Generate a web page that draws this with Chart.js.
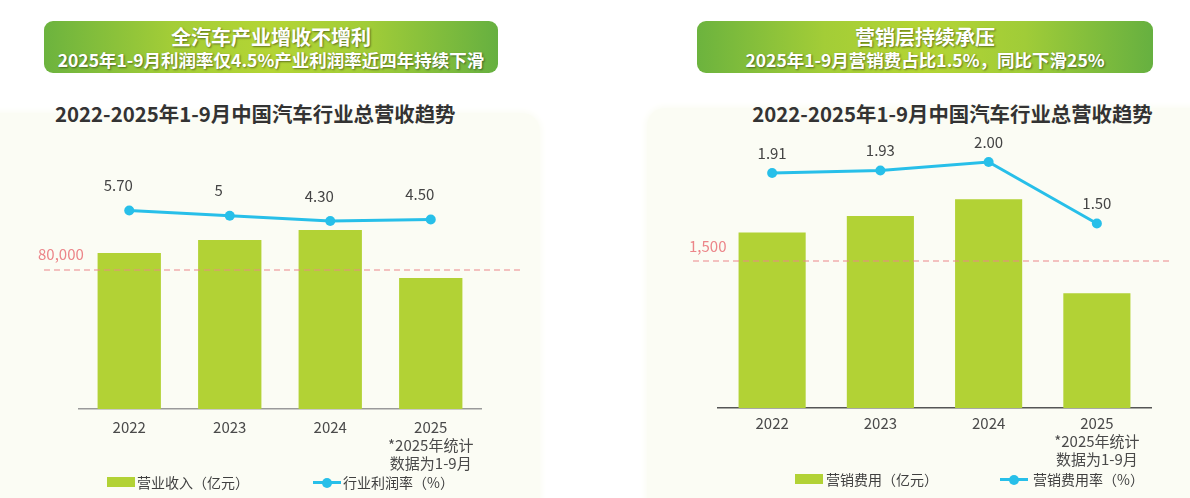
<!DOCTYPE html>
<html lang="zh-CN">
<head>
<meta charset="utf-8">
<title>2022-2025年1-9月中国汽车行业总营收趋势</title>
<script src="https://cdn.jsdelivr.net/npm/chart.js@4.4.1/dist/chart.umd.min.js"></script>
<style>
    html, body {
        margin: 0;
        padding: 0;
        width: 1190px;
        height: 498px;
        overflow: hidden;
        background: #ffffff;
        font-family: "Noto Sans CJK SC", "Noto Sans", sans-serif;
    }
    .panel {
        position: absolute;
        background: #fbfcf4;
        border-radius: 18px;
        box-shadow: 0 0 6px 2px #fbfcf4;
    }
    .banner {
        position: absolute;
        top: 21px;
        height: 52px;
        border-radius: 9px;
        background: linear-gradient(90deg, #6cb33e 0%, #a3cd37 28%, #b4d534 50%, #a0cc38 72%, #66b040 100%);
        color: #fff;
        text-align: center;
        font-weight: bold;
        text-shadow: 1px 1px 2px rgba(0, 0, 0, 0.45);
        box-sizing: border-box;
        padding-top: 4px;
    }
    .banner .l1 { font-size: 20px; line-height: 23px; }
    .banner .l2 { font-size: 17.5px; line-height: 24px; }
    .title {
        position: absolute;
        top: 99px;
        font-size: 20.4px;
        line-height: 28px;
        font-weight: bold;
        color: #333333;
        text-align: center;
        white-space: nowrap;
    }
    canvas { position: absolute; top: 0; }
    .legend-box {
        position: absolute;
        width: 28px;
        height: 10px;
        background: #b2d235;
    }
    .legend-line {
        position: absolute;
        width: 28px;
        height: 3px;
        background: #27bfe9;
    }
    .legend-line::after {
        content: "";
        position: absolute;
        left: 9px;
        top: -3.5px;
        width: 10px;
        height: 10px;
        border-radius: 50%;
        background: #27bfe9;
    }
    .legend-text {
        position: absolute;
        font-size: 14px;
        line-height: 18px;
        color: #404040;
        white-space: nowrap;
    }
</style>
</head>
<body>

<div class="panel" style="left:-20px; top:113px; width:560px; height:420px;"></div>
<div class="panel" style="left:647px; top:108px; width:570px; height:420px;"></div>

<div class="banner" style="left:44px; width:454px;">
    <div class="l1">全汽车产业增收不增利</div>
    <div class="l2">2025年1-9月利润率仅4.5%产业利润率近四年持续下滑</div>
</div>
<div class="banner" style="left:697px; width:456px;">
    <div class="l1">营销层持续承压</div>
    <div class="l2">2025年1-9月营销费占比1.5%，同比下滑25%</div>
</div>

<div class="title" style="left:55px; width:400px;">2022-2025年1-9月中国汽车行业总营收趋势</div>
<div class="title" style="left:752px; width:401px;">2022-2025年1-9月中国汽车行业总营收趋势</div>

<canvas id="revenueChart" width="600" height="498" style="left:0;"></canvas>
<canvas id="marketingChart" width="590" height="498" style="left:600px;"></canvas>

<div class="legend-box" style="left:107px; top:477px;"></div>
<div class="legend-text" style="left:137px; top:473px;">营业收入（亿元）</div>
<div class="legend-line" style="left:313px; top:481px;"></div>
<div class="legend-text" style="left:343px; top:473px;">行业利润率（%）</div>

<div class="legend-box" style="left:795px; top:474px;"></div>
<div class="legend-text" style="left:826px; top:470px;">营销费用（亿元）</div>
<div class="legend-line" style="left:1000px; top:478px;"></div>
<div class="legend-text" style="left:1033px; top:470px;">营销费用率（%）</div>

<script>
// --- Data ---
const YEARS = ['2022', '2023', '2024', ['2025', '*2025年统计', '数据为1-9月']];

const REVENUE = [89800, 97300, 103000, 75400];          // 营业收入（亿元）
const PROFIT_RATE = [5.7, 5.0, 4.3, 4.5];                // 行业利润率（%）
const PROFIT_RATE_TEXT = ['5.70', '5', '4.30', '4.50'];
const REVENUE_REF = 80000;

const MARKETING_COST = [1790, 1960, 2130, 1170];         // 营销费用（亿元）
const MARKETING_RATE = [1.91, 1.93, 2.00, 1.50];         // 营销费用率（%）
const MARKETING_RATE_TEXT = ['1.91', '1.93', '2.00', '1.50'];
const MARKETING_REF = 1500;

// --- Styles ---
const BAR_COLOR = '#b2d235';
const LINE_COLOR = '#27bfe9';
const REF_COLOR = '#ec8589';
const FONT = '"Noto Sans CJK SC", "Noto Sans", sans-serif';

// reference dashed line + labels above the line points
const overlayPlugin = {
    id: 'overlay',
    afterDatasetsDraw(chart, args, opts) {
        const ctx = chart.ctx;
        const y = chart.scales.y.getPixelForValue(opts.refValue);

        ctx.save();
        ctx.strokeStyle = REF_COLOR;
        ctx.lineWidth = 1.2;
        ctx.setLineDash([6, 4]);
        ctx.beginPath();
        ctx.moveTo(opts.refFrom, y);
        ctx.lineTo(opts.refTo, y);
        ctx.stroke();
        ctx.setLineDash([]);

        ctx.font = `15px ${FONT}`;
        ctx.textBaseline = 'middle';
        ctx.textAlign = 'left';
        ctx.fillStyle = REF_COLOR;
        ctx.fillText(opts.refValue.toLocaleString('en-US'), opts.refLabelX, y - opts.refLabelDy);

        ctx.textAlign = 'center';
        ctx.fillStyle = '#444444';
        chart.getDatasetMeta(1).data.forEach((pt, i) => {
            ctx.fillText(opts.pointText[i], pt.x + opts.dx, pt.y - opts.dy);
        });
        ctx.restore();
    }
};

function makeChart(canvasId, cfg) {
    return new Chart(document.getElementById(canvasId), {
        type: 'bar',
        data: {
            labels: YEARS,
            datasets: [
                {
                    type: 'bar',
                    data: cfg.bars,
                    backgroundColor: BAR_COLOR,
                    barPercentage: cfg.barPct,
                    categoryPercentage: 1,
                    yAxisID: 'y',
                    order: 1
                },
                {
                    type: 'line',
                    data: cfg.rates,
                    borderColor: LINE_COLOR,
                    backgroundColor: LINE_COLOR,
                    borderWidth: 3,
                    pointRadius: 5,
                    pointBorderWidth: 0,
                    pointBackgroundColor: LINE_COLOR,
                    tension: 0,
                    yAxisID: 'y1',
                    order: 0
                }
            ]
        },
        options: {
            responsive: false,
            animation: false,
            layout: { padding: cfg.padding },
            scales: {
                x: {
                    grid: { display: false, drawTicks: false },
                    border: { color: cfg.axisColor, width: 1.5 },
                    ticks: {
                        color: '#4a4a4a',
                        padding: cfg.tickPad,
                        maxRotation: 0,
                        font: { family: FONT, size: 15, lineHeight: 1.2 }
                    },
                    afterFit: s => { s.height = 70; }
                },
                y: { display: false, min: 0, max: cfg.yMax },
                y1: { display: false, min: cfg.y1Min, max: cfg.y1Max }
            },
            plugins: {
                legend: { display: false },
                tooltip: { enabled: false },
                overlay: cfg.overlay
            }
        },
        plugins: [overlayPlugin]
    });
}

makeChart('revenueChart', {
    bars: REVENUE,
    rates: PROFIT_RATE,
    barPct: 0.63,
    padding: { left: 79, right: 119, top: 131, bottom: 19 },
    axisColor: '#9a9a9a',
    tickPad: 9,
    yMax: 160000,
    y1Min: -20.8,
    y1Max: 16.3,
    overlay: {
        refValue: REVENUE_REF,
        refFrom: 44, refTo: 523,
        refLabelX: 38, refLabelDy: 16,
        pointText: PROFIT_RATE_TEXT,
        dx: -11, dy: 25
    }
});

makeChart('marketingChart', {
    bars: MARKETING_COST,
    rates: MARKETING_RATE,
    barPct: 0.62,
    padding: { left: 118, right: 39, top: 114, bottom: 20 },
    axisColor: '#555555',
    tickPad: 6,
    yMax: 3000,
    y1Min: 0,
    y1Max: 2.39,
    overlay: {
        refValue: MARKETING_REF,
        refFrom: 93, refTo: 573,
        refLabelX: 89, refLabelDy: 15,
        pointText: MARKETING_RATE_TEXT,
        dx: 0, dy: 20
    }
});
</script>
</body>
</html>
